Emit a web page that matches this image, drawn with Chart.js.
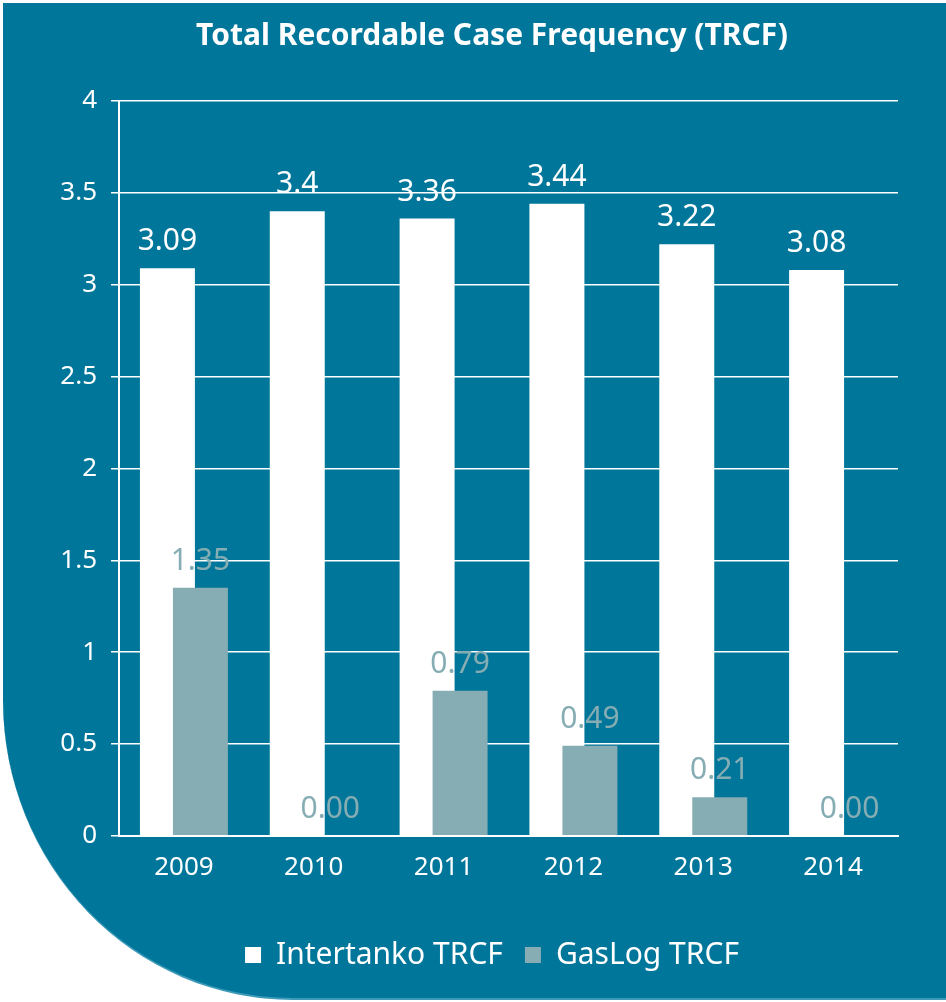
<!DOCTYPE html>
<html>
<head>
<meta charset="utf-8">
<script src="https://cdn.jsdelivr.net/npm/chart.js@4"></script>
<style>
  html, body { margin: 0; padding: 0; background: #ffffff; }
  body { width: 946px; height: 1002px; position: relative; overflow: hidden; }
  #panel {
    position: absolute; left: 3px; top: 3px; width: 943px; height: 995px;
    background: #00769a;
    border-bottom-left-radius: 290px 300px;
    border-bottom: 2px solid #3d9ab8;
  }
  #wrap { position: absolute; left: 0; top: 0; width: 946px; height: 1000px; }
</style>
</head>
<body>
<div id="panel"></div>
<div id="wrap"><canvas id="chart"></canvas></div>
<script>
// ── Data ────────────────────────────────────────────────────────────────────
const YEARS      = ['2009', '2010', '2011', '2012', '2013', '2014'];
const INTERTANKO = [3.09, 3.4, 3.36, 3.44, 3.22, 3.08];
const GASLOG     = [1.35, 0.00, 0.79, 0.49, 0.21, 0.00];

const FONT      = "'Noto Sans', 'Open Sans', sans-serif";
const WHITE     = '#ffffff';
const GREY_TEAL = '#86adb3';

// Chart.js paints dataset 0 last; the GasLog bars must sit on top of the
// white ones, so skip them in the normal pass and paint them afterwards.
// Then write the value labels (no datalabels plugin offline).
const overlapAndLabels = {
  id: 'overlapAndLabels',
  beforeDatasetDraw(chart, args) {
    if (args.index === 1 && !chart.$gasPass) return false;
  },
  afterDatasetsDraw(chart) {
    chart.$gasPass = true;
    chart.getDatasetMeta(1).controller.draw();
    chart.$gasPass = false;

    const ctx = chart.ctx;
    ctx.save();
    ctx.font = `30px ${FONT}`;
    ctx.textAlign = 'center';
    ctx.textBaseline = 'alphabetic';
    chart.data.datasets.forEach((ds, di) => {
      const meta = chart.getDatasetMeta(di);
      ctx.fillStyle = ds.labelColor;
      meta.data.forEach((bar, i) => {
        const v = ds.data[i];
        const txt = ds.labelDecimals == null ? String(v) : v.toFixed(ds.labelDecimals);
        ctx.fillText(txt, bar.x, bar.y - 18);
      });
    });
    ctx.restore();
  },
};

new Chart(document.getElementById('chart').getContext('2d'), {
  type: 'bar',
  data: {
    labels: YEARS,
    datasets: [
      {
        label: 'Intertanko TRCF',
        data: INTERTANKO,
        backgroundColor: WHITE,
        labelColor: WHITE,
        labelDecimals: null,
      },
      {
        label: 'GasLog TRCF',
        data: GASLOG,
        backgroundColor: GREY_TEAL,
        labelColor: GREY_TEAL,
        labelDecimals: 2,
      },
    ],
  },
  options: {
    responsive: true,
    maintainAspectRatio: false,
    animation: false,
    // overlapping bars: bars wider than their group slot
    categoryPercentage: 0.508,
    barPercentage: 1.667,
    layout: { padding: { left: 86, right: 48, top: 0, bottom: 20 } },
    plugins: {
      title: {
        display: true,
        text: 'Total Recordable Case Frequency (TRCF)',
        color: WHITE,
        font: { family: FONT, size: 30, weight: 'bold' },
        padding: { top: 18, bottom: 47 },
      },
      legend: {
        position: 'bottom',
        labels: {
          color: WHITE,
          font: { family: FONT, size: 30 },
          boxWidth: 16,
          boxHeight: 16,
          padding: 22,
        },
      },
      tooltip: { enabled: false },
    },
    scales: {
      x: {
        grid: { display: false, drawTicks: false },
        border: { color: WHITE, width: 2 },
        ticks: { color: WHITE, font: { family: FONT, size: 26 }, padding: 16 },
        afterFit(scale) { scale.height += 19; },
      },
      y: {
        min: 0,
        max: 4,
        ticks: {
          stepSize: 0.5,
          color: WHITE,
          font: { family: FONT, size: 26 },
          padding: 14,
          callback: v => String(v),
        },
        grid: { color: WHITE, lineWidth: 1.5, tickLength: 8 },
        border: { color: WHITE, width: 2 },
        // narrow box so title/legend centre like the original; labels spill left
        afterFit(scale) {
          scale.width = 33;
          scale._computeLabelArea = () => undefined;
        },
      },
    },
  },
  plugins: [overlapAndLabels],
});
</script>
</body>
</html>
